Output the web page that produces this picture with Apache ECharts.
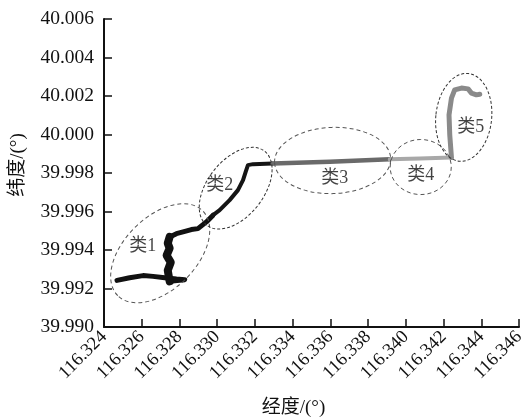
<!DOCTYPE html>
<html>
<head>
<meta charset="utf-8">
<script src="https://cdn.jsdelivr.net/npm/echarts@6/dist/echarts.min.js"></script>
<style>html,body{margin:0;padding:0;background:#fff}#c{width:526px;height:420px}</style>
</head>
<body>
<div id="c"></div>
<script>
// Axis ranges / ticks
var lonTicks = [116.324, 116.326, 116.328, 116.330, 116.332, 116.334, 116.336, 116.338, 116.340, 116.342, 116.344, 116.346];
var latTicks = [39.990, 39.992, 39.994, 39.996, 39.998, 40.000, 40.002, 40.004, 40.006];

// Trajectory, split by cluster: [lon, lat]
var cluster1 = [
  [116.32469, 39.99242], [116.32536, 39.99256], [116.32607, 39.99267], [116.32660, 39.99263],
  [116.32722, 39.99256], [116.32784, 39.99249], [116.32828, 39.99246], [116.32748, 39.99237],
  [116.32738, 39.99294], [116.32754, 39.99336], [116.32732, 39.99372], [116.32748, 39.99409],
  [116.32738, 39.99435], [116.32748, 39.99468], [116.32784, 39.99485], [116.32819, 39.99494],
  [116.32863, 39.99506], [116.32898, 39.99511], [116.32943, 39.99546], [116.32978, 39.99581]
];
var cluster2 = [
  [116.32978, 39.99581], [116.33013, 39.99607], [116.33066, 39.99659], [116.33110, 39.99711],
  [116.33137, 39.99763], [116.33151, 39.99806], [116.33163, 39.99841], [116.33190, 39.99846],
  [116.33294, 39.99849]
];
var cluster3 = [
  [116.33294, 39.99849], [116.33597, 39.99859], [116.33915, 39.99871]
];
var cluster4 = [
  [116.33915, 39.99871], [116.34074, 39.99875], [116.34242, 39.99880]
];
var cluster5 = [
  [116.34242, 39.99880], [116.34233, 39.99997], [116.34229, 40.00102], [116.34242, 40.00189],
  [116.34259, 40.00232], [116.34295, 40.00241], [116.34330, 40.00237], [116.34348, 40.00215],
  [116.34374, 40.00206], [116.34392, 40.00209]
];

// Cluster regions: [centerLon, centerLat, semiAxisLon, semiAxisLat, rotationDeg]
var regions = [
  [116.32698, 39.99383, 0.00318, 0.00188, 45],
  [116.33098, 39.99721, 0.00249, 0.00146, 52],
  [116.33612, 39.99865, 0.00308, 0.00172, 2],
  [116.34079, 39.99831, 0.00162, 0.00143, 0],
  [116.34307, 40.00089, 0.00148, 0.00229, -6]
];
var regionNames = ['类1', '类2', '类3', '类4', '类5'];
var labelPos = [
  [116.32605, 39.99419], [116.33013, 39.99737], [116.33623, 39.99773],
  [116.34079, 39.99789], [116.34344, 40.00039]
];

var serif = "Liberation Serif, Times New Roman, DejaVu Serif, Noto Sans CJK SC, serif";
var chart = echarts.init(document.getElementById('c'));

function lineSeries(data, color, width) {
  return {
    type: 'line', data: data, symbol: 'none', smooth: false, z: 3,
    lineStyle: { color: color, width: width, cap: 'round', join: 'round' },
    silent: true, animation: false
  };
}

chart.setOption({
  animation: false,
  backgroundColor: '#fff',
  grid: { left: 104, right: 7, top: 19, bottom: 93, containLabel: false, outerBoundsMode: 'none' },
  xAxis: {
    type: 'value', min: lonTicks[0], max: lonTicks[lonTicks.length - 1], interval: 0.002,
    name: '经度/(°)', nameLocation: 'middle', nameGap: 72,
    nameTextStyle: { fontFamily: serif, fontSize: 19, color: '#111', padding: [0, 36, 0, 0] },
    axisLine: { show: true, onZero: false, lineStyle: { color: '#111', width: 2 } },
    axisTick: { show: true, inside: true, length: 8, lineStyle: { color: '#111', width: 1.5 } },
    axisLabel: { rotate: 45, margin: 7, fontFamily: serif, fontSize: 18.5, color: '#111',
      formatter: function (v) { return v.toFixed(3); } },
    splitLine: { show: false }
  },
  yAxis: {
    type: 'value', min: latTicks[0], max: latTicks[latTicks.length - 1], interval: 0.002,
    name: '纬度/(°)', nameLocation: 'middle', nameGap: 76,
    nameTextStyle: { fontFamily: serif, fontSize: 19, color: '#111', padding: [0, 0, 0, 16] },
    axisLine: { show: true, onZero: false, lineStyle: { color: '#111', width: 2 } },
    axisTick: { show: true, inside: true, length: 8, lineStyle: { color: '#111', width: 1.5 } },
    axisLabel: { margin: 10, fontFamily: serif, fontSize: 19.5, color: '#111',
      formatter: function (v) { return v.toFixed(3); } },
    splitLine: { show: false }
  },
  series: [
    lineSeries(cluster1, '#111', 5),
    lineSeries(cluster1.slice(7, 14), '#111', 8),
    lineSeries(cluster2, '#151515', 4),
    lineSeries(cluster3, '#6a6a6a', 4.5),
    lineSeries(cluster4, '#a8a8a8', 4),
    lineSeries(cluster5, '#8a8a8a', 5),
    {
      type: 'custom', data: regions, z: 4, silent: true,
      renderItem: function (params, api) {
        var c = api.coord([api.value(0), api.value(1)]);
        var a = api.size([api.value(2), 0])[0];
        var b = api.size([0, api.value(3)])[1];
        var dark = params.dataIndex === 1 || params.dataIndex === 4;
        return {
          type: 'ellipse', x: c[0], y: c[1], rotation: api.value(4) * Math.PI / 180,
          shape: { cx: 0, cy: 0, rx: a, ry: b },
          style: { fill: null, stroke: dark ? '#333' : '#555', lineWidth: 1, lineDash: dark ? [3, 2] : [4, 3] }
        };
      }
    },
    {
      type: 'scatter', symbolSize: 0, z: 5, silent: true,
      data: labelPos.map(function (p, i) { return { value: p, name: regionNames[i] }; }),
      label: { show: true, position: 'inside', formatter: '{b}', fontFamily: serif, fontSize: 18, color: '#111' }
    }
  ]
});
</script>
</body>
</html>
